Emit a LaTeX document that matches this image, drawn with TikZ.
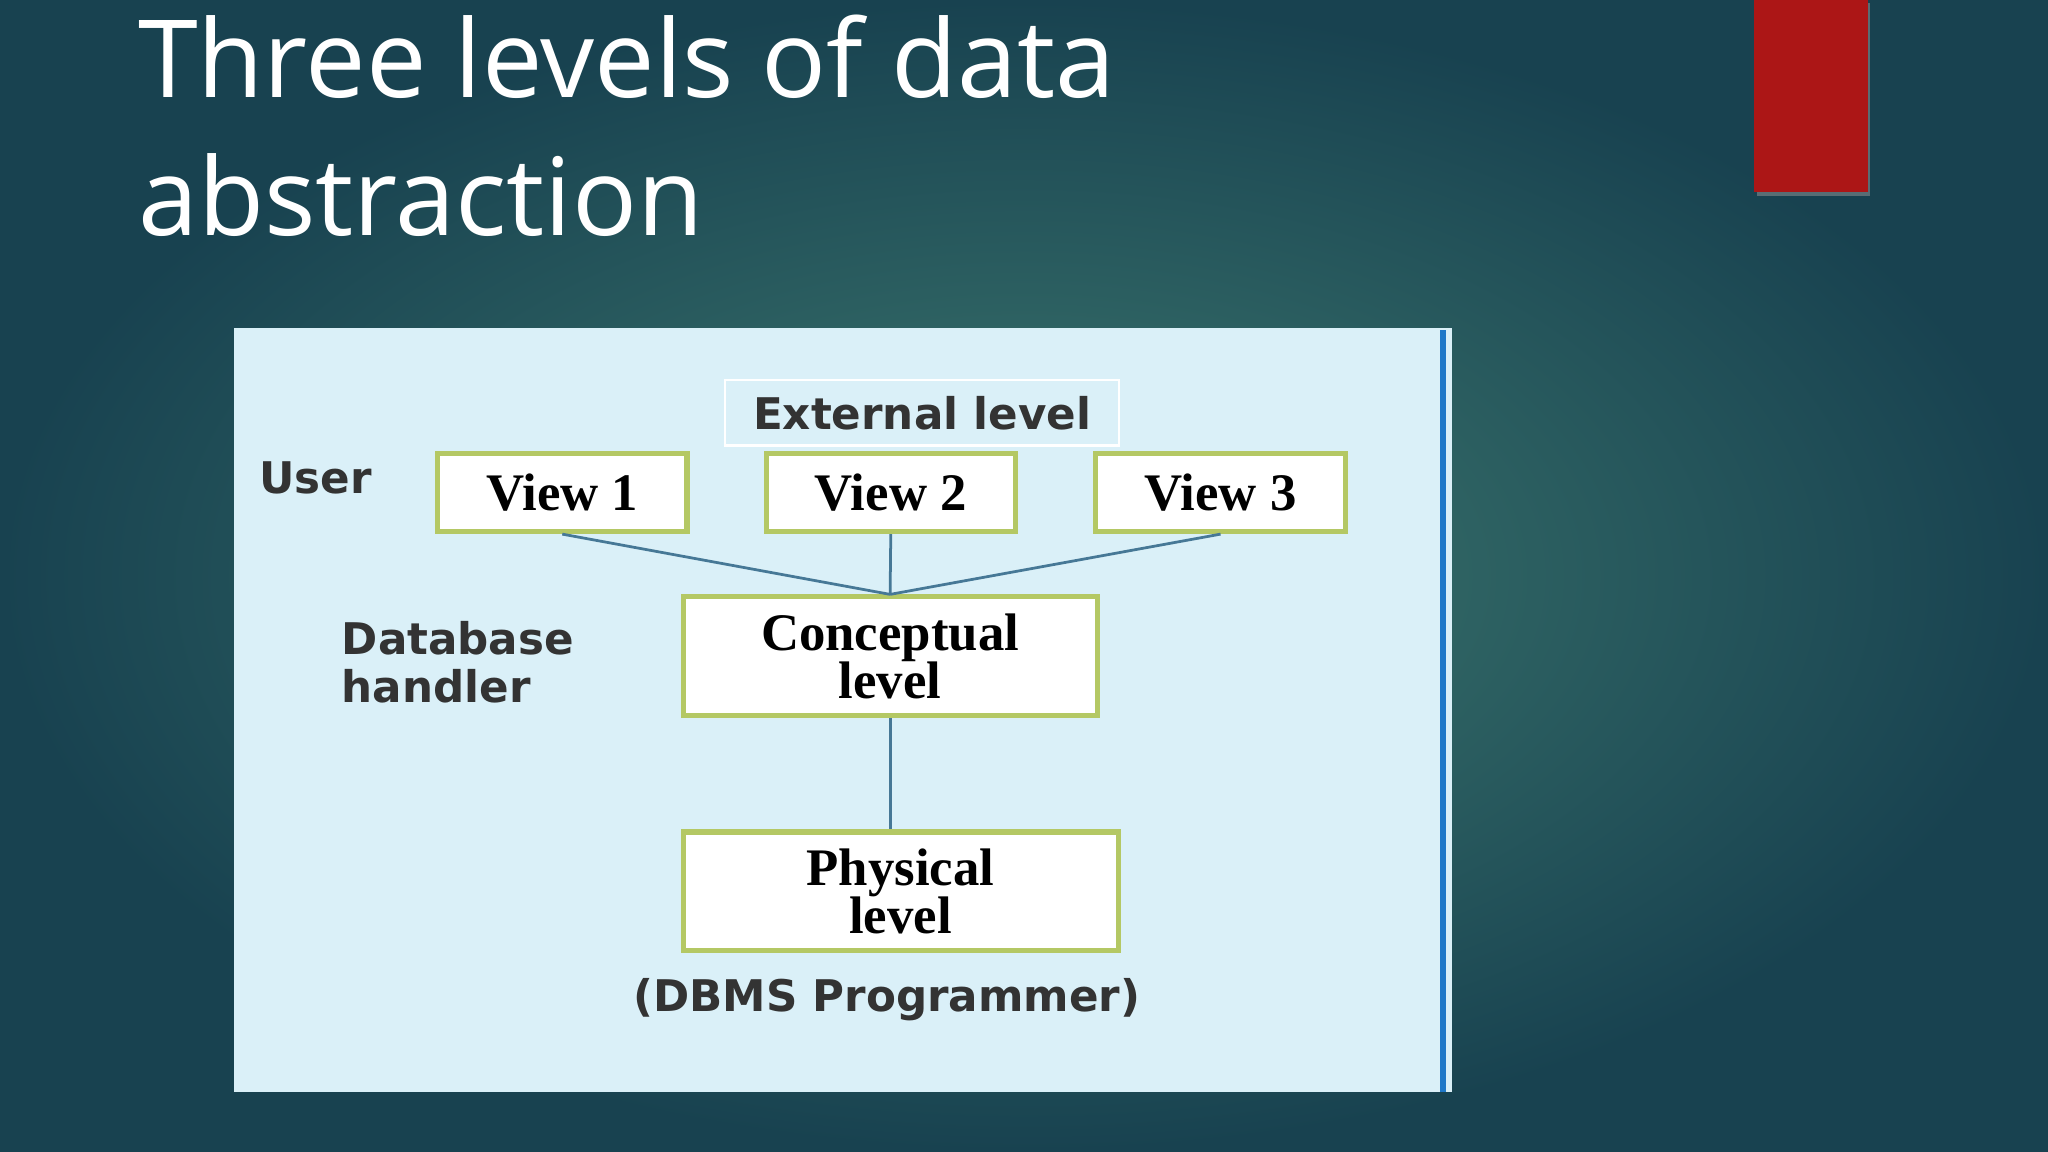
\documentclass[tikz,border=0pt]{standalone}
\usepackage{fontspec}
\setmainfont{Liberation Serif}
\newfontfamily\titlefont{Open Sans}
\newfontfamily\labfont{DejaVu Sans}
\definecolor{bgin}{RGB}{62,122,112}
\definecolor{bgout}{RGB}{24,66,80}
\definecolor{panel}{RGB}{218,240,248}
\definecolor{boxline}{RGB}{180,200,100}
\definecolor{conn}{RGB}{70,120,150}
\definecolor{redbar}{RGB}{172,22,22}
\definecolor{blueline}{RGB}{30,120,200}
\tikzset{
 vbox/.style={draw=boxline,line width=1.1pt,fill=white,inner sep=0pt,minimum width=19.1mm,minimum height=6mm,font=\bfseries\fontsize{11.5}{12}\selectfont},
 bigbox/.style={draw=boxline,line width=1.1pt,fill=white,inner sep=0pt,align=center,minimum height=9.1mm,font=\bfseries\fontsize{11.5}{10.5}\selectfont},
 lab/.style={font=\labfont\bfseries\fontsize{9.5}{10.5}\selectfont,text=black!80,align=left},
 link/.style={draw=conn,line width=0.6pt},
 ttl/.style={anchor=base west,inner sep=0pt,text=white,font=\titlefont\fontsize{23.5}{28}\selectfont}
}
\begin{document}
\begin{tikzpicture}[x=0.1mm,y=-0.1mm]
\useasboundingbox (0,0) rectangle (1568,882);
\shade[inner color=bgin,outer color=bgout] (0,0) rectangle (1568,882);
\fill[black!40,opacity=0.5] (1345,2) rectangle (1432,150);
\fill[redbar] (1343,0) rectangle (1430,147);
\node[ttl] (t1) at (105,75) {Three levels of data};
\node[ttl] (t2) at (105,180) {abstraction};
\fill[panel] (179,251) rectangle (1112,836);
\draw[blueline,line width=1.4pt] (1105,253) -- (1105,836);
\node[draw=white,line width=0.5pt,minimum width=30.2mm,minimum height=5mm,inner sep=0pt,lab] (ext) at (706,316) {External level};
\node[lab,anchor=west,inner sep=0pt] (user) at (198,366) {User};
\node[lab,anchor=west,inner sep=0pt] (dbh) at (261,507) {Database\\handler};
\node[lab] (prog) at (679,765) {(DBMS Programmer)};
\node[vbox] (v1) at (430.5,377) {View 1};
\node[vbox] (v2) at (682,377) {View 2};
\node[vbox] (v3) at (934.5,377) {View 3};
\node[bigbox,minimum width=31.7mm] (con) at (681.5,502.5) {Conceptual\\level};
\node[bigbox,minimum width=33.3mm] (phy) at (689.5,682.5) {Physical\\level};
\draw[link] (v1.south) -- (con.north);
\draw[link] (v2.south) -- (con.north);
\draw[link] (v3.south) -- (con.north);
\draw[link] (con.south) -- (con.south |- phy.north);
\end{tikzpicture}
\end{document}
